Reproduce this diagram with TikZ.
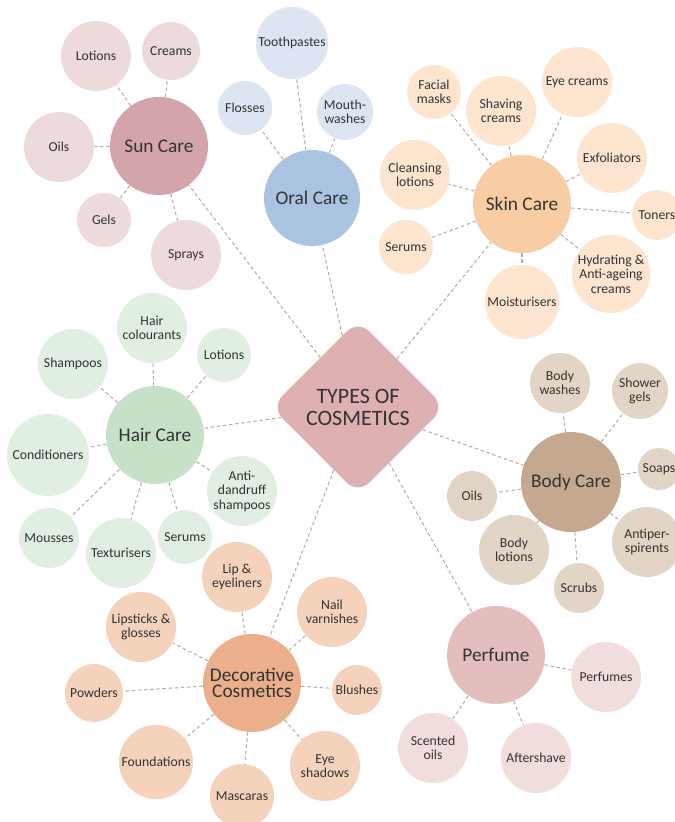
\documentclass[tikz,border=0pt]{standalone}
\usepackage{fontspec}
\setmainfont{Carlito}
\usepackage{xcolor}
\usepackage{tikz}
\usetikzlibrary{shapes.geometric}
\definecolor{txt}{HTML}{333333}
\definecolor{linkgray}{HTML}{B9ADA6}
\definecolor{centrefill}{HTML}{DFB0B2}
\definecolor{sunmain}{HTML}{D3A5AA}
\definecolor{sunleaf}{HTML}{EDDADB}
\definecolor{oralmain}{HTML}{A9C3E0}
\definecolor{oralleaf}{HTML}{DDE5F2}
\definecolor{skinmain}{HTML}{F9CDA3}
\definecolor{skinleaf}{HTML}{FDE5D0}
\definecolor{hairmain}{HTML}{C7E1C9}
\definecolor{hairleaf}{HTML}{E1EFE2}
\definecolor{bodymain}{HTML}{C4A990}
\definecolor{bodyleaf}{HTML}{E3D5C6}
\definecolor{decomain}{HTML}{EBAF8B}
\definecolor{decoleaf}{HTML}{F4D2BC}
\definecolor{perfmain}{HTML}{E4BEBE}
\definecolor{perfleaf}{HTML}{F2DDDD}
\tikzstyle{centre} = [diamond, aspect=1, minimum width=3.48cm, minimum height=3.48cm, inner sep=0pt, rounded corners=9pt, fill=centrefill, text=txt, align=center, font=\fontsize{12.5}{12.5}\selectfont]
\tikzstyle{hub} = [circle, minimum size=1.96cm, inner sep=0pt, text=txt, align=center, font=\fontsize{11}{12}\selectfont]
\tikzstyle{leaf} = [circle, minimum size=1.4cm, inner sep=0pt, text=txt, align=center, font=\fontsize{7.8}{8.2}\selectfont]
\tikzstyle{link} = [draw=linkgray, line width=0.6pt, dash pattern=on 2pt off 1.5pt]

\begin{document}
\begin{tikzpicture}[x=0.02cm, y=-0.02cm]
	\useasboundingbox (0,0) rectangle (675,822);
	
	% Centre node
	\node (types) [centre] at (358,407) {TYPES OF\\COSMETICS};
	
	% Sun care
	\node (sun) [hub, fill=sunmain] at (159,146) {Sun Care};
	\node (sunlot) [leaf, fill=sunleaf] at (96,56) {Lotions};
	\node (suncre) [leaf, fill=sunleaf, minimum size=1.16cm] at (171,51) {Creams};
	\node (sunoil) [leaf, fill=sunleaf] at (59,147) {Oils};
	\node (sungel) [leaf, fill=sunleaf, minimum size=1.08cm] at (104,220) {Gels};
	\node (sunspr) [leaf, fill=sunleaf] at (186,255) {Sprays};
	
	% Oral care
	\node (oral) [hub, fill=oralmain, minimum size=1.92cm] at (312,198) {Oral Care};
	\node (oraltoo) [leaf, fill=oralleaf, minimum size=1.44cm] at (292,43) {Toothpastes};
	\node (oralflo) [leaf, fill=oralleaf, minimum size=1.08cm] at (245,108) {Flosses};
	\node (oralmou) [leaf, fill=oralleaf, minimum size=1.12cm] at (345,112) {Mouth-\\washes};
	
	% Skin care
	\node (skin) [hub, fill=skinmain] at (522,204) {Skin Care};
	\node (skinfac) [leaf, fill=skinleaf, minimum size=1.08cm] at (434,92) {Facial\\masks};
	\node (skinsha) [leaf, fill=skinleaf] at (501,111) {Shaving\\creams};
	\node (skineye) [leaf, fill=skinleaf] at (577,82) {Eye creams};
	\node (skinexf) [leaf, fill=skinleaf] at (612,158) {Exfoliators};
	\node (skinton) [leaf, fill=skinleaf, minimum size=1cm] at (657,215) {Toners};
	\node (skincle) [leaf, fill=skinleaf] at (415,175) {Cleansing\\lotions};
	\node (skinser) [leaf, fill=skinleaf, minimum size=1.08cm] at (406,247) {Serums};
	\node (skinhyd) [leaf, fill=skinleaf, minimum size=1.56cm] at (611,274) {Hydrating \&\\Anti-ageing\\creams};
	\node (skinmoi) [leaf, fill=skinleaf, minimum size=1.48cm] at (522,302) {Moisturisers};
	
	% Hair care
	\node (hair) [hub, fill=hairmain] at (155,435) {Hair Care};
	\node (haircol) [leaf, fill=hairleaf] at (152,328) {Hair\\colourants};
	\node (hairlot) [leaf, fill=hairleaf, minimum size=1.08cm] at (224,355) {Lotions};
	\node (hairsha) [leaf, fill=hairleaf] at (73,364) {Shampoos};
	\node (haircon) [leaf, fill=hairleaf, minimum size=1.64cm] at (48,455) {Conditioners};
	\node (hairant) [leaf, fill=hairleaf] at (242,491) {Anti-\\dandruff\\shampoos};
	\node (hairmou) [leaf, fill=hairleaf, minimum size=1.2cm] at (49,538) {Mousses};
	\node (hairtex) [leaf, fill=hairleaf] at (121,553) {Texturisers};
	\node (hairser) [leaf, fill=hairleaf, minimum size=1.08cm] at (185,537) {Serums};
	
	% Body care
	\node (body) [hub, fill=bodymain, minimum size=2cm] at (571,482) {Body Care};
	\node (bodywas) [leaf, fill=bodyleaf, minimum size=1.2cm] at (560,383) {Body\\washes};
	\node (bodysho) [leaf, fill=bodyleaf, minimum size=1.12cm] at (640,391) {Shower\\gels};
	\node (bodysoa) [leaf, fill=bodyleaf, minimum size=0.84cm] at (659,469) {Soaps};
	\node (bodyoil) [leaf, fill=bodyleaf, minimum size=1cm] at (472,496) {Oils};
	\node (bodylot) [leaf, fill=bodyleaf] at (514,550) {Body\\lotions};
	\node (bodyant) [leaf, fill=bodyleaf] at (647,542) {Antiper-\\spirents};
	\node (bodyscr) [leaf, fill=bodyleaf, minimum size=1cm] at (579,588) {Scrubs};
	
	% Decorative cosmetics
	\node (deco) [hub, fill=decomain] at (252,683) {Decorative\\[-2.5pt]Cosmetics};
	\node (decolip) [leaf, fill=decoleaf] at (237,577) {Lip \&\\eyeliners};
	\node (deconai) [leaf, fill=decoleaf] at (332,612) {Nail\\varnishes};
	\node (decosti) [leaf, fill=decoleaf] at (141,627) {Lipsticks \&\\glosses};
	\node (decopow) [leaf, fill=decoleaf, minimum size=1.16cm] at (94,693) {Powders};
	\node (decoblu) [leaf, fill=decoleaf, minimum size=1cm] at (357,690) {Blushes};
	\node (decofou) [leaf, fill=decoleaf, minimum size=1.48cm] at (156,762) {Foundations};
	\node (decoeye) [leaf, fill=decoleaf] at (325,766) {Eye\\shadows};
	\node (decomas) [leaf, fill=decoleaf, minimum size=1.28cm] at (242,796) {Mascaras};
	
	% Perfume
	\node (perf) [hub, fill=perfmain] at (496,655) {Perfume};
	\node (perfper) [leaf, fill=perfleaf] at (606,677) {Perfumes};
	\node (perfsce) [leaf, fill=perfleaf] at (433,748) {Scented\\oils};
	\node (perfaft) [leaf, fill=perfleaf] at (536,758) {Aftershave};
	
	% Links from the centre
	\foreach \n in {sun,oral,skin,hair,body,deco,perf}
		\draw [link] (types) -- (\n);
	
	% Links inside each group
	\foreach \n in {sunlot,suncre,sunoil,sungel,sunspr}
		\draw [link] (sun) -- (\n);
	\foreach \n in {oraltoo,oralflo,oralmou}
		\draw [link] (oral) -- (\n);
	\foreach \n in {skinfac,skinsha,skineye,skinexf,skinton,skincle,skinser,skinhyd,skinmoi}
		\draw [link] (skin) -- (\n);
	\foreach \n in {haircol,hairlot,hairsha,haircon,hairant,hairmou,hairtex,hairser}
		\draw [link] (hair) -- (\n);
	\foreach \n in {bodywas,bodysho,bodysoa,bodyoil,bodylot,bodyant,bodyscr}
		\draw [link] (body) -- (\n);
	\foreach \n in {decolip,deconai,decosti,decopow,decoblu,decofou,decoeye,decomas}
		\draw [link] (deco) -- (\n);
	\foreach \n in {perfper,perfsce,perfaft}
		\draw [link] (perf) -- (\n);
	
\end{tikzpicture}
\end{document}
